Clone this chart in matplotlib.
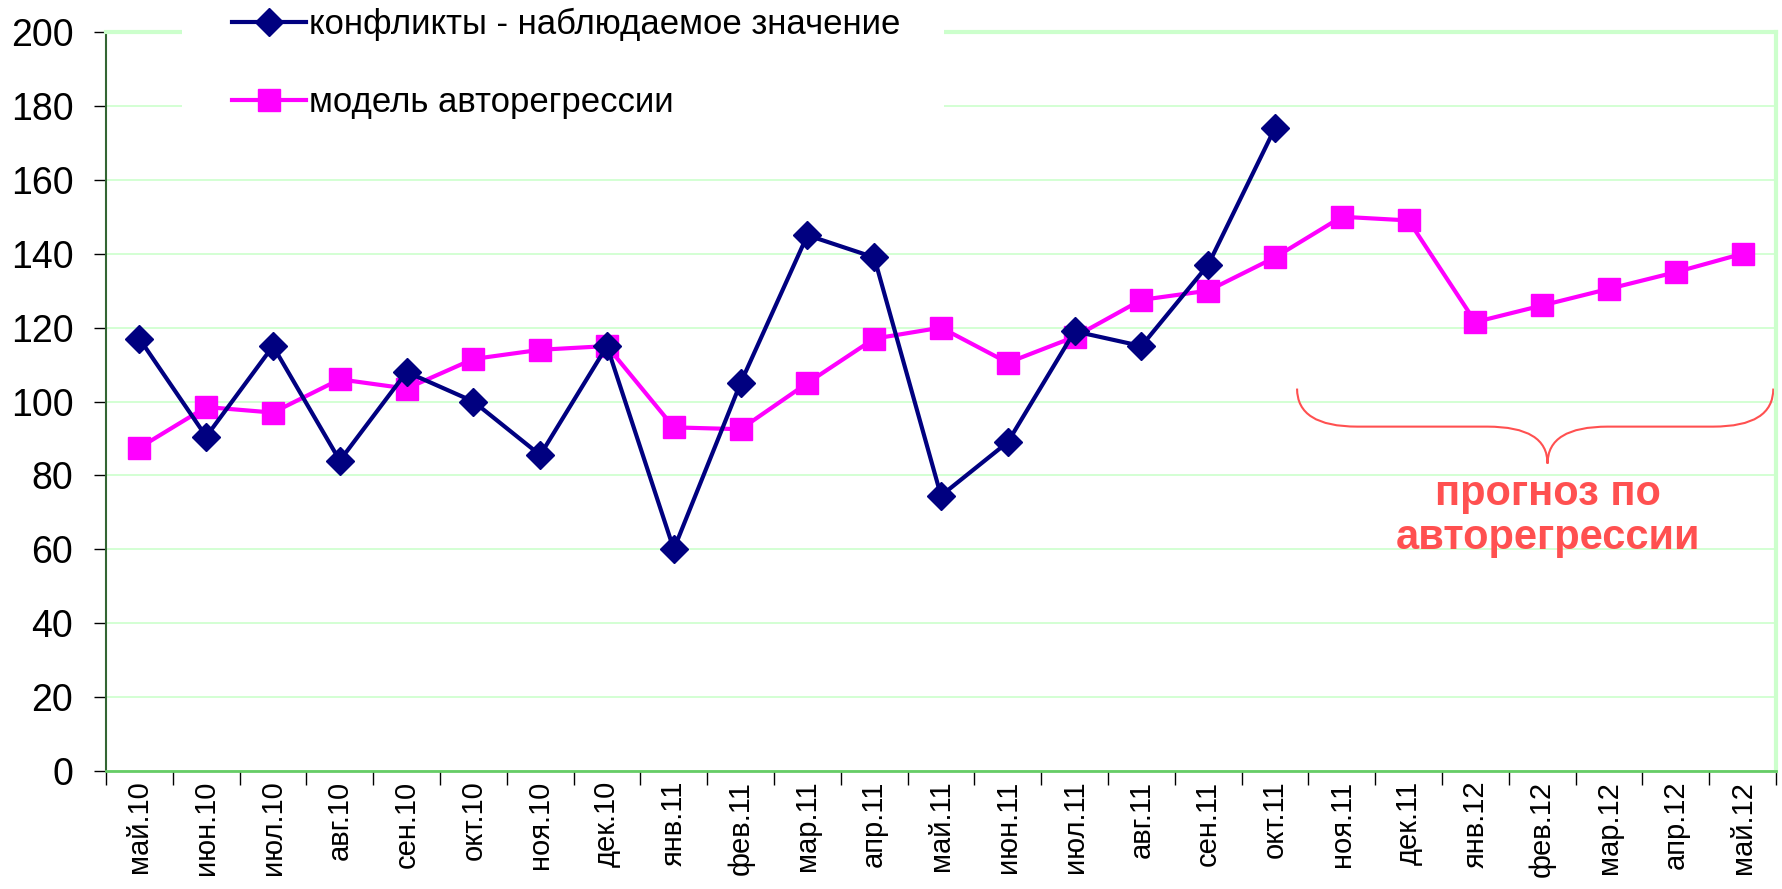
import matplotlib.pyplot as plt
import numpy as np
from matplotlib.path import Path
from matplotlib.patches import PathPatch, Rectangle

plt.rcParams['font.family'] = ['Liberation Sans', 'DejaVu Sans']

months = ["май.10", "июн.10", "июл.10", "авг.10", "сен.10", "окт.10", "ноя.10",
          "дек.10", "янв.11", "фев.11", "мар.11", "апр.11", "май.11", "июн.11",
          "июл.11", "авг.11", "сен.11", "окт.11", "ноя.11", "дек.11", "янв.12",
          "фев.12", "мар.12", "апр.12", "май.12"]

# наблюдаемые конфликты (до окт.11)
observed = [117, 90.5, 115, 84, 108, 100, 85.5, 115, 60, 105, 145, 139,
            74.5, 89, 119, 115, 137, 174]

# модель авторегрессии (с прогнозом до май.12)
model = [87.5, 98.5, 97, 106, 103.5, 111.5, 114, 115, 93, 92.5, 105, 117,
         120, 110.5, 117.5, 127.5, 130, 139, 150, 149, 121.5, 126, 130.5,
         135, 140]

x = np.arange(len(months))

fig = plt.figure(figsize=(17.83, 8.89), dpi=100)
ax = fig.add_axes([106 / 1783, 1 - 771 / 889, (1776 - 106) / 1783, (771 - 32) / 889])

l1, = ax.plot(x[:len(observed)], observed, color="#000080", lw=3, marker="D",
              ms=14.5, zorder=4)
l2, = ax.plot(x, model, color="#ff00ff", lw=3, marker="s", ms=16.5, zorder=3)

ax.set_xlim(-0.5, len(months) - 0.5)
ax.set_ylim(0, 200)
ax.set_yticks(range(0, 201, 20))
ax.tick_params(axis="y", labelsize=27, length=8.5, width=1, direction="out", pad=15)
ax.set_xticks(x)
ax.set_xticklabels(months, rotation=90, fontsize=21)
ax.set_xticks(np.arange(-0.5, len(months)), minor=True)
ax.tick_params(axis="x", which="major", length=0, pad=7)
ax.tick_params(axis="x", which="minor", length=10, width=1, direction="out")

ax.grid(axis="y", color="#ccffcc", lw=1.2)
ax.set_axisbelow(True)
ax.spines["left"].set_color("#336633")
ax.spines["left"].set_linewidth(1.5)
ax.spines["bottom"].set_color("#66cc66")
ax.spines["bottom"].set_linewidth(2)
ax.spines["top"].set_color("#ccffcc")
ax.spines["top"].set_linewidth(3)
ax.spines["right"].set_color("#ccffcc")
ax.spines["right"].set_linewidth(3)

# белая подложка легенды поверх рамки
fig.patches.append(Rectangle((182 / 1783, 1 - 122 / 889), (944 - 182) / 1783,
                             122 / 889, transform=fig.transFigure,
                             facecolor="white", edgecolor="none", zorder=1))
leg = fig.legend([l1, l2], ["конфликты - наблюдаемое значение", "модель авторегрессии"],
                 loc="upper left", bbox_to_anchor=(232 / 1783, 1 - 8 / 889),
                 fontsize=25, frameon=False, handlelength=2.13,
                 handletextpad=0.1, labelspacing=1.3, borderpad=0,
                 borderaxespad=0)
leg.set_zorder(2)

# фигурная скобка над прогнозом
red = "#ff5050"
x0, x1, xm = 17.33, 24.46, 21.08
yt, yh, yb = 103.5, 93.2, 83.2
r = 0.9
verts = [(x0, yt), (x0, yh), (x0 + r, yh),
         (xm - r, yh), (xm, yh), (xm, yb),
         (xm, yh), (xm + r, yh),
         (x1 - r, yh), (x1, yh), (x1, yt)]
codes = [Path.MOVETO, Path.CURVE3, Path.CURVE3,
         Path.LINETO, Path.CURVE3, Path.CURVE3,
         Path.CURVE3, Path.CURVE3,
         Path.LINETO, Path.CURVE3, Path.CURVE3]
ax.add_patch(PathPatch(Path(verts, codes), fill=False, ec=red, lw=1.5,
                       clip_on=False))
ax.text(xm, 69, "прогноз по\nавторегрессии", color=red, fontsize=30,
        fontweight="bold", ha="center", va="center", linespacing=1.15)

fig.savefig("out.png", dpi=100)
